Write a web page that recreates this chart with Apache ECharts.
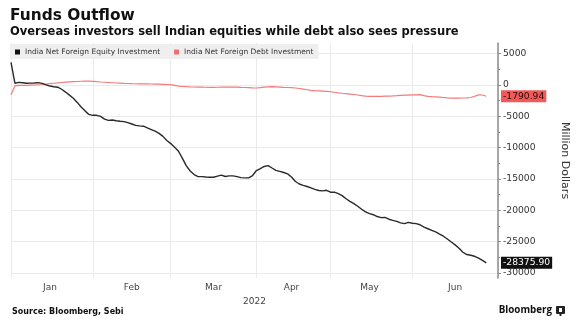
<!DOCTYPE html>
<html>
<head>
<meta charset="utf-8">
<script src="https://cdn.jsdelivr.net/npm/echarts@6/dist/echarts.min.js"></script>
<style>
  html, body { margin: 0; padding: 0; background: #ffffff; }
  #chart { width: 578px; height: 323px; }
</style>
</head>
<body>
<div id="chart"></div>
<script>
// Trading days in 2022 (NSE calendar), per month
const months = ['Jan', 'Feb', 'Mar', 'Apr', 'May', 'Jun'];
const janDays = [3, 4, 5, 6, 7, 10, 11, 12, 13, 14, 17, 18, 19, 20, 21, 24, 25, 26, 27, 28, 31];
const febDays = [1, 2, 3, 4, 7, 8, 9, 10, 11, 14, 15, 16, 17, 18, 21, 22, 23, 24, 25, 28];
const marDays = [1, 2, 3, 4, 7, 8, 9, 10, 11, 14, 15, 16, 17, 21, 22, 23, 24, 25, 28, 29, 30, 31];
const aprDays = [1, 4, 5, 6, 7, 8, 11, 12, 13, 18, 19, 20, 21, 22, 25, 26, 27, 28, 29];
const mayDays = [2, 4, 5, 6, 9, 10, 11, 12, 13, 16, 17, 18, 19, 20, 23, 24, 25, 26, 27, 30, 31];
const junDays = [1, 2, 3, 6, 7, 8, 9, 10, 13, 14, 15, 16, 17, 20, 21, 22, 23, 24, 27, 28, 29, 30];
const axisEndDate = '2022-07-01';

// Cumulative net foreign investment, million USD
const equityFlow = [
  3620, 280, 410, 360, 270, 300, 320, 370, 250, 30,
  -170, -280, -350, -680, -1130, -1620, -2120, -2780, -3520, -4130,
  -4700, -4840, -4840, -5000, -5450, -5650, -5590, -5700, -5790, -5840,
  -6010, -6230, -6450, -6520, -6580, -6850, -7110, -7370, -7720, -8200,
  -8850, -9350, -9950, -10570, -11720, -12900, -13720, -14300, -14620, -14620,
  -14680, -14720, -14720, -14550, -14380, -14600, -14500, -14500, -14620, -14780,
  -14830, -14830, -14450, -13650, -13330, -13000, -12870, -13250, -13620, -13780,
  -13970, -14180, -14680, -15400, -15800, -16030, -16200, -16420, -16650, -16840,
  -16900, -16800, -17110, -17110, -17350, -17650, -18150, -18560, -18930, -19350,
  -19830, -20250, -20530, -20700, -20990, -21160, -21120, -21420, -21600, -21760,
  -22000, -22120, -21920, -22060, -22130, -22300, -22690, -22940, -23200, -23450,
  -23800, -24130, -24580, -25060, -25510, -26050, -26690, -27060, -27170, -27330,
  -27640, -27990, -28375.90
];
const debtFlow = [
  -1550, -150, -60, -50, -50, -20, 0, 40, 80, 150,
  220, 280, 330, 400, 460, 500, 530, 560, 600, 620,
  640, 590, 530, 480, 440, 400, 360, 320, 290, 260,
  240, 215, 200, 190, 180, 170, 160, 150, 130, 110,
  80, 50, -60, -180, -230, -270, -300, -320, -340, -350,
  -360, -370, -370, -360, -350, -340, -330, -320, -330, -370,
  -400, -430, -460, -480, -420, -350, -300, -270, -300, -330,
  -370, -400, -430, -480, -560, -660, -760, -860, -910, -940,
  -980, -1020, -1080, -1160, -1250, -1320, -1380, -1450, -1520, -1600,
  -1700, -1780, -1830, -1830, -1820, -1810, -1790, -1770, -1740, -1700,
  -1650, -1630, -1610, -1590, -1570, -1550, -1700, -1830, -1870, -1900,
  -1930, -2000, -2070, -2090, -2090, -2090, -2080, -2070, -2000, -1800,
  -1580, -1600, -1790.94
];

// Value axis ticks
const majorTicks = [5000, 0, -5000, -10000, -15000, -20000, -25000, -30000];
const minorTicks = [2500, -2500, -7500, -12500, -17500, -22500, -27500];
const yMin = -30800;
const yMax = 6700;

const seriesNames = ['India Net Foreign Equity Investment', 'India Net Foreign Debt Investment'];
const equityColor = '#2a2a2a';
const debtColor = '#f27b7b';
const font = 'DejaVu Sans';

// Build the category list and month boundaries
const pad = n => (n < 10 ? '0' : '') + n;
const dayLists = [janDays, febDays, marDays, aprDays, mayDays, junDays];
const dates = [];
const monthStart = new Set();
const monthLabelAt = {};
dayLists.forEach((days, mi) => {
  const first = dates.length;
  monthStart.add(first);
  monthLabelAt[first + Math.floor(days.length / 2)] = months[mi];
  days.forEach(d => dates.push('2022-' + pad(mi + 1) + '-' + pad(d)));
});
monthStart.add(dates.length);
dates.push(axisEndDate);

const equityLast = equityFlow[equityFlow.length - 1];
const debtLast = debtFlow[debtFlow.length - 1];

// Extra right-hand axis that only shows a value tag for the last point
const tagAxis = (value, bg, fg) => ({
  type: 'value', position: 'right', min: yMin, max: yMax, z: 10,
  axisLine: { show: false }, splitLine: { show: false },
  axisTick: { show: false, customValues: [value] },
  axisLabel: {
    customValues: [value], margin: 3,
    formatter: v => v.toFixed(2),
    color: fg, backgroundColor: bg, fontFamily: font, fontSize: 9.2,
    padding: [1, 2, 0, 2], lineHeight: 11
  }
});

const chart = echarts.init(document.getElementById('chart'), null, { renderer: 'canvas' });
chart.setOption({
  animation: false,
  backgroundColor: '#ffffff',
  legend: {
    left: 10, top: 44, padding: [4, 5, 3, 5],
    backgroundColor: '#efefef',
    itemWidth: 5, itemHeight: 5, itemGap: 14, icon: 'rect',
    textStyle: { fontFamily: font, fontSize: 7.5, color: '#333' },
    data: seriesNames
  },
  grid: { left: 11, right: 79, top: 43, bottom: 45, containLabel: false },
  xAxis: {
    type: 'category', data: dates, boundaryGap: false,
    axisLine: { show: false }, axisTick: { show: false },
    splitLine: {
      show: true, interval: (i) => monthStart.has(i),
      lineStyle: { color: '#ebebeb', width: 1 }
    },
    axisLabel: {
      interval: (i) => monthLabelAt[i] !== undefined,
      formatter: (v, i) => monthLabelAt[i] || '',
      margin: 5, fontFamily: font, fontSize: 9, color: '#444'
    },
    name: '2022', nameLocation: 'middle', nameGap: 16,
    nameTextStyle: { fontFamily: font, fontSize: 9, color: '#444' }
  },
  yAxis: [
    {
      type: 'value', position: 'right', min: yMin, max: yMax,
      axisLine: { show: true, lineStyle: { color: '#8c8c8c', width: 1.5 } },
      axisTick: { show: true, inside: false, length: 3, customValues: majorTicks, lineStyle: { color: '#8c8c8c' } },
      axisLabel: { customValues: majorTicks, margin: 5, formatter: v => String(v), fontFamily: font, fontSize: 9.2, color: '#333' },
      splitLine: { show: true, lineStyle: { color: '#ebebeb', width: 1 } },
      name: 'Million Dollars', nameLocation: 'middle', nameRotate: -90, nameGap: 61,
      nameTextStyle: { fontFamily: font, fontSize: 11, color: '#333' }
    },
    {
      type: 'value', position: 'right', min: yMin, max: yMax,
      axisLine: { show: false }, splitLine: { show: false }, axisLabel: { show: false },
      axisTick: { show: true, length: 2, customValues: minorTicks, lineStyle: { color: '#8c8c8c' } }
    },
    tagAxis(debtLast, '#f25a5a', '#2a0a0a'),
    tagAxis(equityLast, '#111111', '#ffffff')
  ],
  series: [
    {
      name: seriesNames[0], type: 'line', data: equityFlow, yAxisIndex: 0,
      showSymbol: false, symbol: 'rect', itemStyle: { color: '#111' },
      lineStyle: { color: equityColor, width: 1.4 }, z: 3
    },
    {
      name: seriesNames[1], type: 'line', data: debtFlow, yAxisIndex: 0,
      showSymbol: false, symbol: 'rect', itemStyle: { color: '#ee7070' },
      lineStyle: { color: debtColor, width: 1.2 }, z: 2
    }
  ],
  graphic: [
    {
      type: 'text', x: 10, y: 16,
      style: { text: 'Funds Outflow', fontFamily: font, fontSize: 15.4, fontWeight: 'bold', fill: '#111', verticalAlign: 'middle' }
    },
    {
      type: 'text', x: 10, y: 32.5,
      style: { text: 'Overseas investors sell Indian equities while debt also sees pressure', fontFamily: font, fontSize: 11.5, fontWeight: 'bold', fill: '#111', verticalAlign: 'middle' }
    },
    {
      type: 'text', x: 12, y: 312,
      style: { text: 'Source: Bloomberg, Sebi', fontFamily: font, fontSize: 8, fontWeight: 'bold', fill: '#111', verticalAlign: 'middle' }
    },
    {
      type: 'text', x: 552, y: 310,
      style: { text: 'Bloomberg', fontFamily: 'Open Sans', fontSize: 9.8, fontWeight: 'bold', fill: '#111', align: 'right', verticalAlign: 'middle' }
    },
    {
      type: 'group', x: 556, y: 306,
      children: [
        { type: 'rect', shape: { x: 0, y: 0, width: 9, height: 8, r: 1 }, style: { fill: '#222' } },
        { type: 'rect', shape: { x: 3, y: 2, width: 3, height: 4 }, style: { fill: '#fff' } },
        { type: 'rect', shape: { x: 3.5, y: 8, width: 2, height: 2 }, style: { fill: '#222' } }
      ]
    }
  ]
});
</script>
</body>
</html>
